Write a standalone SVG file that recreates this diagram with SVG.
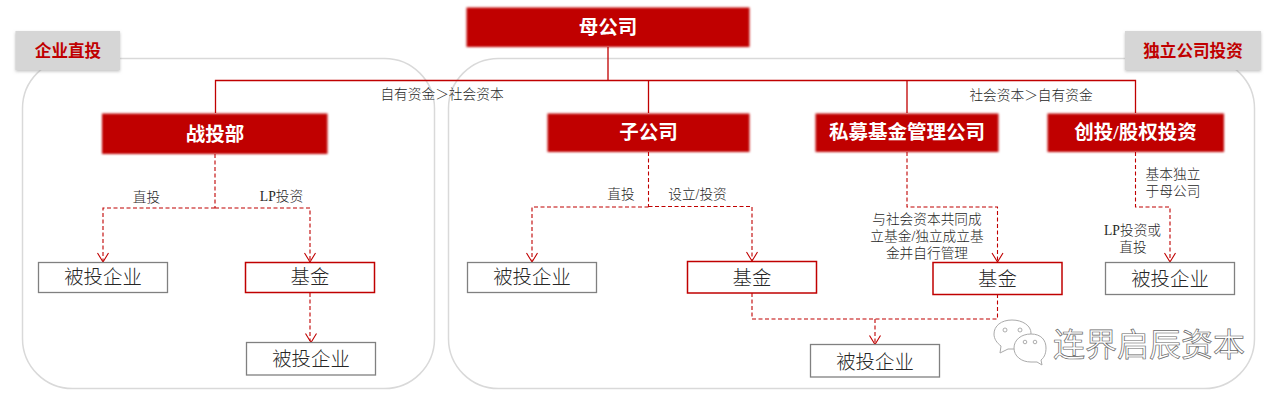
<svg xmlns="http://www.w3.org/2000/svg" width="1286" height="401" viewBox="0 0 1286 401">
<style>
text{font-family:"Liberation Serif","Noto Sans CJK SC",serif;text-anchor:middle}
.panel{fill:none;stroke:#d9d9d9;stroke-width:1.5}
.tagbox{fill:#d6d6d6;filter:url(#shadow)}
.tagtext{font-size:16.6px;font-weight:700;fill:#c00000}
.redbox{fill:#c00000;filter:url(#soft)}
.redtext{font-size:19.500px;font-weight:700;fill:#fff}
.gbox{fill:#fff;stroke:#808080;stroke-width:1.3}
.rbox{fill:#fff;stroke:#c00000;stroke-width:1.5}
.boxtext{font-size:19.400px;font-weight:300;fill:#262626}
.lbl{font-size:13.700px;font-weight:300;fill:#262626}
.solid{fill:none;stroke:#c00000;stroke-width:1.3}
.dash{fill:none;stroke:#c00000;stroke-width:1.1;stroke-dasharray:4 2.5}
.arrow{fill:none;stroke:#c00000;stroke-width:1.1}
.wm{font-size:32px;fill:#fff;stroke:#666;stroke-width:.7}
.wi{fill:#fff;stroke:#aaa;stroke-width:1}
.wd{fill:#fff;stroke:#999;stroke-width:.8}
</style>
<defs>
<filter id="soft" x="-5%" y="-10%" width="110%" height="120%"><feGaussianBlur stdDeviation="0.9"/></filter>
<filter id="shadow" x="-10%" y="-15%" width="120%" height="135%"><feDropShadow dx="0" dy="1.5" stdDeviation="1.5" flood-color="#999" flood-opacity=".6"/></filter>
</defs>

<g id="panels">
<rect class="panel" x="22.500" y="58.500" width="412" height="330" rx="50"/>
<rect class="panel" x="448.500" y="58.500" width="806" height="330" rx="50"/>
</g>

<g id="connectors">
<path class="solid" d="M608 47V80M215.500 113V80.500H1135.500V113M648.500 80.500V113M907 80.500V113"/>
<path class="dash" d="M215 154V208M215 208H103V261"/>
<path class="dash" d="M215 208H310V261"/>
<path class="dash" d="M310 293V341"/>
<path class="dash" d="M648.500 152V207M648.500 207H532V261"/>
<path class="dash" d="M648.500 206.500H752V260"/>
<path class="dash" d="M752 293V319H997.500V294"/>
<path class="dash" d="M875 319V343"/>
<path class="dash" d="M907 152V207H997.500V261"/>
<path class="dash" d="M1135.500 152V207H1170V261"/>
<g class="arrow">
<path d="M97.500 253 103 262 108.500 253"/>
<path d="M304.500 253 310 262 315.500 253"/>
<path d="M305.500 333.500 311 342.500 316.500 333.500"/>
<path d="M526.500 253 532 262 537.500 253"/>
<path d="M746.500 252 752 261 757.500 252"/>
<path d="M869.500 335.500 875 344.500 880.500 335.500"/>
<path d="M992 253 997.500 262 1003 253"/>
<path d="M1164.500 253 1170 262 1175.500 253"/>
</g>
</g>

<g id="tag-left"><rect class="tagbox" x="15.500" y="31" width="104.500" height="39"/><text class="tagtext" x="68" y="56.500">企业直投</text></g>
<g id="tag-right"><rect class="tagbox" x="1125" y="31" width="136" height="39"/><text class="tagtext" x="1193" y="56.500">独立公司投资</text></g>

<g id="parent"><rect class="redbox" x="466.500" y="7.500" width="283" height="39.500"/><text class="redtext" x="608" y="34">母公司</text></g>
<g id="strategy"><rect class="redbox" x="102" y="113.500" width="225.500" height="40.500"/><text class="redtext" x="215" y="141">战投部</text></g>
<g id="subsidiary"><rect class="redbox" x="547.500" y="113.500" width="202" height="38.500"/><text class="redtext" x="648.500" y="139">子公司</text></g>
<g id="pe-manager"><rect class="redbox" x="815.500" y="113.500" width="183" height="38.500"/><text class="redtext" x="907" y="139">私募基金管理公司</text></g>
<g id="vc"><rect class="redbox" x="1047.500" y="113.500" width="176.500" height="38.500"/><text class="redtext" x="1135.500" y="139">创投/股权投资</text></g>

<g id="investee-1"><rect class="gbox" x="38.500" y="262.500" width="129" height="30"/><text class="boxtext" x="103" y="284">被投企业</text></g>
<g id="fund-1"><rect class="rbox" x="245.500" y="262.500" width="129" height="30"/><text class="boxtext" x="310" y="284">基金</text></g>
<g id="investee-2"><rect class="gbox" x="246.500" y="342.500" width="129" height="32.500"/><text class="boxtext" x="311" y="366">被投企业</text></g>
<g id="investee-3"><rect class="gbox" x="467.500" y="262.500" width="129" height="30"/><text class="boxtext" x="532" y="284">被投企业</text></g>
<g id="fund-2"><rect class="rbox" x="687.500" y="261.500" width="129" height="31.500"/><text class="boxtext" x="752" y="285">基金</text></g>
<g id="investee-4"><rect class="gbox" x="810.500" y="344.500" width="129" height="32.500"/><text class="boxtext" x="875" y="369">被投企业</text></g>
<g id="fund-3"><rect class="rbox" x="933" y="262.500" width="129" height="32"/><text class="boxtext" x="997.500" y="286">基金</text></g>
<g id="investee-5"><rect class="gbox" x="1105.500" y="262.500" width="129" height="32"/><text class="boxtext" x="1170" y="286">被投企业</text></g>

<g id="labels">
<text class="lbl" x="442" y="99">自有资金＞社会资本</text>
<text class="lbl" x="1031" y="100">社会资本＞自有资金</text>
<text class="lbl" x="146.500" y="202">直投</text>
<text class="lbl" x="281.500" y="201">LP投资</text>
<text class="lbl" x="621" y="199">直投</text>
<text class="lbl" x="697.500" y="199">设立/投资</text>
<text class="lbl" x="927" y="224">与社会资本共同成</text>
<text class="lbl" x="927" y="241">立基金/独立成立基</text>
<text class="lbl" x="927" y="258">金并自行管理</text>
<text class="lbl" x="1173" y="179">基本独立</text>
<text class="lbl" x="1173" y="196">于母公司</text>
<text class="lbl" x="1132.500" y="235">LP投资或</text>
<text class="lbl" x="1133" y="252">直投</text>
</g>

<g id="watermark">
<path class="wi" d="M1012 320C1001 320 994 326 994 334 994 339 997 343 1001 346L1000 353 1008 349 1014 349C1022 347 1031 341 1031 333 1031 326 1023 320 1012 320Z"/>
<circle class="wd" cx="1005" cy="330" r="2"/><circle class="wd" cx="1020" cy="330" r="2"/>
<path class="wi" d="M1031 334C1021 334 1014 340 1014 348 1014 356 1021 362 1031 362L1037 362 1042 365 1041 360C1045 357 1046 352 1046 348 1046 340 1041 334 1031 334Z"/>
<circle class="wd" cx="1025" cy="342" r="1.800"/><circle class="wd" cx="1035" cy="342" r="1.800"/>
<text class="wm" x="1149" y="356">连界启辰资本</text>
</g>
</svg>
